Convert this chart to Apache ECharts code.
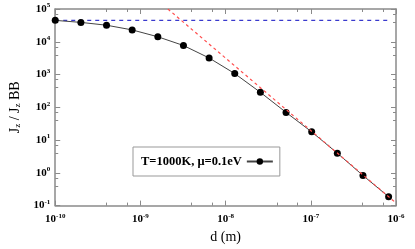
<!DOCTYPE html>
<html><head><meta charset="utf-8">
<script src="https://cdn.jsdelivr.net/npm/echarts@6/dist/echarts.min.js"></script>
<style>html,body{margin:0;padding:0;background:#fff}#c{width:415px;height:249px}</style>
</head><body><div id="c"></div>
<script>
// Data
const distances = [1e-10, 2e-10, 4e-10, 8e-10, 1.6e-9, 3.2e-9, 6.4e-9, 1.28e-8, 2.56e-8, 5.12e-8, 1.024e-7, 2.048e-7, 4.096e-7, 8.192e-7];
const ratio = [4.5e4, 3.9e4, 3.2e4, 2.3e4, 1.42e4, 7.7e3, 3.2e3, 1.07e3, 286, 70, 17.8, 3.98, 0.83, 0.186];
const blackbodyX = [1e-10, 8.192e-7];
const blackbodyY = [4.5e4, 4.5e4];
const asymptoteX = [2.1e-9, 1e-6];
const asymptoteY = [1e5, 0.12];
const legendName = 'T=1000K, \u03bc=0.1eV';

const serif = '"Liberation Serif", "DejaVu Serif", serif';
const axisGray = '#8a8a8a';
function pairs(xs, ys) { return xs.map((x, i) => [x, ys[i]]); }
function expLabel(v) {
  const e = Math.round(Math.log10(v));
  return '{b|10}{e|' + e + '}';
}
const richLab = {
  b: { fontFamily: serif, fontWeight: 'bold', fontSize: 11, color: '#000' },
  e: { fontFamily: serif, fontWeight: 'bold', fontSize: 7, color: '#000', padding: [0, 0, 7, 0] }
};
const axisCommon = {
  type: 'log', logBase: 10,
  axisLine: { show: true, lineStyle: { color: axisGray, width: 1.5 } },
  axisTick: { show: true, inside: true, length: 5, lineStyle: { color: axisGray } },
  minorTick: { show: true, splitNumber: 3, length: 3, lineStyle: { color: axisGray } },
  splitLine: { show: false }
};
const chart = echarts.init(document.getElementById('c'));
chart.setOption({
  animation: false,
  backgroundColor: '#fff',
  grid: { left: 42, right: 19, top: 9, bottom: 37 },
  legend: {
    left: 133, top: 147, padding: [8, 6, 8, 8],
    borderColor: '#999', borderWidth: 1,
    align: 'right', itemWidth: 26, itemHeight: 8,
    textStyle: { fontFamily: serif, fontWeight: 'bold', fontSize: 12.5, color: '#000' },
    data: [legendName]
  },
  xAxis: [
    Object.assign({}, axisCommon, {
      min: 1e-10, max: 1e-6, position: 'bottom',
      axisLabel: { formatter: expLabel, rich: richLab, margin: 7 },
      name: 'd (m)', nameLocation: 'middle', nameGap: 23,
      nameTextStyle: { fontFamily: serif, fontSize: 14, color: '#000' }
    }),
    Object.assign({}, axisCommon, {
      min: 1e-10, max: 1e-6, position: 'top', axisLabel: { show: false }
    })
  ],
  yAxis: [
    Object.assign({}, axisCommon, {
      min: 1e-1, max: 1e5, position: 'left',
      axisLabel: { formatter: expLabel, rich: richLab, margin: 5 },
      name: '{n|J}{s|z}{n| / J}{s|z}{n| BB}', nameLocation: 'middle', nameGap: 20, nameRotate: 90,
      nameTextStyle: {
        rich: {
          n: { fontFamily: serif, fontSize: 14, color: '#000' },
          s: { fontFamily: serif, fontSize: 9, color: '#000', padding: [6, 0, 0, 0] }
        }
      }
    }),
    Object.assign({}, axisCommon, {
      min: 1e-1, max: 1e5, position: 'right', axisLabel: { show: false }
    })
  ],
  series: [
    {
      name: 'bb', type: 'line', data: pairs(blackbodyX, blackbodyY), symbol: 'none',
      lineStyle: { color: '#3333cc', width: 1.2, type: [4, 4] }, z: 1
    },
    {
      name: 'asym', type: 'line', data: pairs(asymptoteX, asymptoteY), symbol: 'none',
      lineStyle: { color: '#ff4d4d', width: 1.2, type: [3, 3] }, z: 3
    },
    {
      name: legendName, type: 'line', data: pairs(distances, ratio),
      symbol: 'circle', symbolSize: 7,
      itemStyle: { color: '#000' },
      lineStyle: { color: '#444', width: 1 }, z: 2
    }
  ]
});
</script></body></html>
